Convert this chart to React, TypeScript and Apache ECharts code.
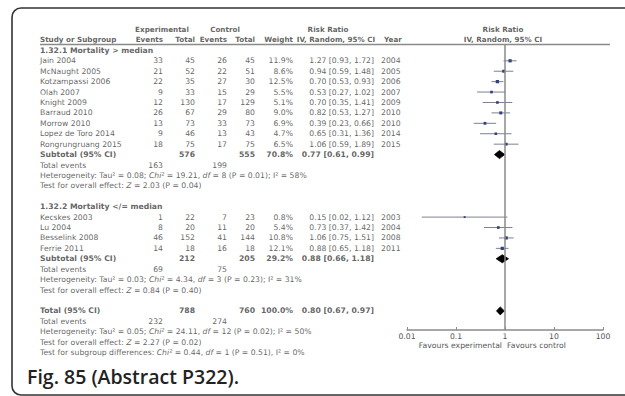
import React, { useEffect, useRef } from "react";
import * as echarts from "echarts";

// ---------- data ----------
const names1 = ["Jain 2004", "McNaught 2005", "Kotzampassi 2006", "Olah 2007", "Knight 2009", "Barraud 2010", "Morrow 2010", "Lopez de Toro 2014", "Rongrungruang 2015"];
const expEvents1 = [33, 21, 22, 9, 12, 26, 13, 9, 18];
const expTotal1 = [45, 52, 35, 33, 130, 67, 73, 46, 75];
const ctlEvents1 = [26, 22, 27, 15, 17, 29, 33, 13, 17];
const ctlTotal1 = [45, 51, 30, 29, 129, 80, 73, 43, 75];
const weight1 = [11.9, 8.6, 12.5, 5.5, 5.1, 9.0, 6.9, 4.7, 6.5];
const rr1 = [1.27, 0.94, 0.70, 0.53, 0.70, 0.82, 0.39, 0.65, 1.06];
const lo1 = [0.93, 0.59, 0.53, 0.27, 0.35, 0.53, 0.23, 0.31, 0.59];
const hi1 = [1.72, 1.48, 0.93, 1.02, 1.41, 1.27, 0.66, 1.36, 1.89];
const year1 = [2004, 2005, 2006, 2007, 2009, 2010, 2010, 2014, 2015];

const names2 = ["Kecskes 2003", "Lu 2004", "Besselink 2008", "Ferrie 2011"];
const expEvents2 = [1, 8, 46, 14];
const expTotal2 = [22, 20, 152, 18];
const ctlEvents2 = [7, 11, 41, 16];
const ctlTotal2 = [23, 20, 144, 18];
const weight2 = [0.8, 5.4, 10.8, 12.1];
const rr2 = [0.15, 0.73, 1.06, 0.88];
const lo2 = [0.02, 0.37, 0.75, 0.65];
const hi2 = [1.12, 1.42, 1.51, 1.18];
const year2 = [2003, 2004, 2008, 2011];

// subtotal / total: [expTotal, ctlTotal, weight, rr, lo, hi, expEvents, ctlEvents]
const sub1 = [576, 555, 70.8, 0.77, 0.61, 0.99, 163, 199];
const sub2 = [212, 205, 29.2, 0.88, 0.66, 1.18, 69, 75];
const total = [788, 760, 100.0, 0.80, 0.67, 0.97, 232, 274];

const het1 = "Heterogeneity: Tau² = 0.08; {i|Chi²} = 19.21, {i|df} = 8 (P = 0.01); I² = 58%";
const test1 = "Test for overall effect: {i|Z} = 2.03 (P = 0.04)";
const het2 = "Heterogeneity: Tau² = 0.03; {i|Chi²} = 4.34, {i|df} = 3 (P = 0.23); I² = 31%";
const test2 = "Test for overall effect: {i|Z} = 0.84 (P = 0.40)";
const hetT = "Heterogeneity: Tau² = 0.05; {i|Chi²} = 24.11, {i|df} = 12 (P = 0.02); I² = 50%";
const testT = "Test for overall effect: {i|Z} = 2.27 (P = 0.02)";
const testSub = "Test for subgroup differences: {i|Chi²} = 0.44, {i|df} = 1 (P = 0.51), I² = 0%";

const tickLabels = ["0.01", "0.1", "1", "10", "100"];

// ---------- layout ----------
const ROW0 = 60.8;
const RH = 10.42;
const COL = { name: 40, expEv: 163, expTot: 195, ctlEv: 227, ctlTot: 255, weight: 293, rr: 374, year: 381 };
const PLOT_L = 407, PLOT_R = 603, PLOT_T = 44, PLOT_B = 330;
const TXT = "#3a3a3a";
const FONT = "DejaVu Sans";
const FS = 7.7;
const FSB = 7.7;
const FSH = 7.2;

type Cell = { value: [number, number]; name: string; label: any };

export default function App() {
  const ref = useRef<HTMLDivElement>(null);
  useEffect(() => {
    const chart = echarts.init(ref.current!, null, { renderer: "svg" });

    const cells: Cell[] = [];
    const cell = (x: number, r: number, text: string, align = "left", bold = false, size?: number) => {
      cells.push({ value: [x, r], name: text, label: { align, fontWeight: bold ? "bold" : "normal", fontSize: size ?? (bold ? FSB : FS) } });
    };
    const head = (x: number, r: number, text: string, align = "left") => cell(x, r, text, align, true, FSH);
    const f2 = (v: number) => v.toFixed(2);
    const rrTxt = (a: number, b: number, c: number) => `${f2(a)} [${f2(b)}, ${f2(c)}]`;

    // headers
    head(162, -3, "Experimental", "center");
    head(225, -3, "Control", "center");
    head(328, -3, "Risk Ratio", "center");
    head(503, -3, "Risk Ratio", "center");
    head(COL.name, -2, "Study or Subgroup", "left");
    head(COL.expEv, -2, "Events", "right");
    head(COL.expTot, -2, "Total", "right");
    head(COL.ctlEv, -2, "Events", "right");
    head(COL.ctlTot, -2, "Total", "right");
    head(COL.weight, -2, "Weight", "right");
    head(336, -2, "IV, Random, 95% CI", "center");
    head(384, -2, "Year", "left");
    head(503, -2, "IV, Random, 95% CI", "center");

    const studyRows: number[][] = [];
    const diamonds: number[][] = [];

    const group = (start: number, heading: string, names: string[], ee: number[], et: number[], ce: number[], ct: number[], w: number[], rr: number[], lo: number[], hi: number[], yr: number[], sub: number[], het: string, test: string) => {
      cell(COL.name, start, heading, "left", true);
      names.forEach((n, i) => {
        const r = start + 1 + i;
        cell(COL.name, r, n);
        cell(COL.expEv, r, String(ee[i]), "right");
        cell(COL.expTot, r, String(et[i]), "right");
        cell(COL.ctlEv, r, String(ce[i]), "right");
        cell(COL.ctlTot, r, String(ct[i]), "right");
        cell(COL.weight, r, w[i].toFixed(1) + "%", "right");
        cell(COL.rr, r, rrTxt(rr[i], lo[i], hi[i]), "right");
        cell(COL.year, r, String(yr[i]));
        studyRows.push([rr[i], lo[i], hi[i], r, w[i]]);
      });
      const rs = start + 1 + names.length;
      cell(COL.name, rs, "Subtotal (95% CI)", "left", true);
      cell(COL.expTot, rs, String(sub[0]), "right", true);
      cell(COL.ctlTot, rs, String(sub[1]), "right", true);
      cell(COL.weight, rs, sub[2].toFixed(1) + "%", "right", true);
      cell(COL.rr, rs, rrTxt(sub[3], sub[4], sub[5]), "right", true);
      diamonds.push([sub[3], sub[4], sub[5], rs]);
      cell(COL.name, rs + 1, "Total events");
      cell(COL.expEv, rs + 1, String(sub[6]), "right");
      cell(COL.ctlEv, rs + 1, String(sub[7]), "right");
      cell(COL.name, rs + 2, het);
      cell(COL.name, rs + 3, test);
      return rs + 5;
    };

    let next = group(-1, "1.32.1 Mortality > median", names1, expEvents1, expTotal1, ctlEvents1, ctlTotal1, weight1, rr1, lo1, hi1, year1, sub1, het1, test1);
    next = group(next, "1.32.2 Mortality </= median", names2, expEvents2, expTotal2, ctlEvents2, ctlTotal2, weight2, rr2, lo2, hi2, year2, sub2, het2, test2);
    const rt = next;
    cell(COL.name, rt, "Total (95% CI)", "left", true);
    cell(COL.expTot, rt, String(total[0]), "right", true);
    cell(COL.ctlTot, rt, String(total[1]), "right", true);
    cell(COL.weight, rt, total[2].toFixed(1) + "%", "right", true);
    cell(COL.rr, rt, rrTxt(total[3], total[4], total[5]), "right", true);
    diamonds.push([total[3], total[4], total[5], rt]);
    cell(COL.name, rt + 1, "Total events");
    cell(COL.expEv, rt + 1, String(total[6]), "right");
    cell(COL.ctlEv, rt + 1, String(total[7]), "right");
    cell(COL.name, rt + 2, hetT);
    cell(COL.name, rt + 3, testT);
    cell(COL.name, rt + 4, testSub);

    const tMin = -4, tMax = 30;
    const plotMin = (PLOT_T - ROW0) / RH;
    const plotMax = (PLOT_B - ROW0) / RH;

    const option: any = {
      animation: false,
      backgroundColor: "#fff",
      textStyle: { fontFamily: FONT },
      grid: [
        { left: 0, width: 625, top: ROW0 + tMin * RH, height: (tMax - tMin) * RH },
        { left: PLOT_L, width: PLOT_R - PLOT_L, top: PLOT_T, height: PLOT_B - PLOT_T },
      ],
      xAxis: [
        { gridIndex: 0, type: "value", min: 0, max: 625, show: false },
        {
          gridIndex: 1, type: "log", logBase: 10, min: 0.01, max: 100, position: "bottom",
          axisLine: { show: true, onZero: false, lineStyle: { color: "#8a8a8a", width: 1.5 } },
          axisTick: { show: true, inside: true, length: 3, lineStyle: { color: "#8a8a8a", width: 1 } },
          axisLabel: {
            show: true, margin: 2, fontSize: FS, color: "#555", fontFamily: FONT,
            formatter: (v: number) => tickLabels[Math.round(Math.log10(v)) + 2] ?? "",
          },
          splitLine: { show: false },
          minorTick: { show: false },
        },
      ],
      yAxis: [
        { gridIndex: 0, type: "value", min: tMin, max: tMax, inverse: true, show: false },
        { gridIndex: 1, type: "value", min: plotMin, max: plotMax, inverse: true, show: false },
      ],
      series: [
        {
          type: "scatter", xAxisIndex: 0, yAxisIndex: 0, symbolSize: 0, silent: true, clip: false,
          data: cells,
          label: {
            show: true, position: "inside", verticalAlign: "middle", color: TXT,
            fontSize: FS, fontFamily: FONT,
            formatter: (p: any) => p.name,
            rich: { i: { fontStyle: "italic", fontSize: FS, fontFamily: FONT, color: TXT } },
          },
        },
        {
          type: "custom", xAxisIndex: 1, yAxisIndex: 1, silent: true,
          data: studyRows,
          encode: { x: [0, 1, 2], y: 3 },
          renderItem: (params: any, api: any) => {
            const r = api.value(3);
            const p = api.coord([api.value(0), r]);
            const a = api.coord([api.value(1), r]);
            const b = api.coord([api.value(2), r]);
            const s = 1.5 + Math.sqrt(api.value(4)) * 0.5;
            return {
              type: "group",
              children: [
                { type: "line", shape: { x1: a[0], y1: a[1], x2: b[0], y2: b[1] }, style: { stroke: "#7d8090", lineWidth: 1 } },
                { type: "rect", shape: { x: p[0] - s / 2, y: p[1] - s / 2, width: s, height: s }, style: { fill: "#34427a" } },
              ],
            };
          },
          markLine: {
            silent: true, symbol: "none", label: { show: false },
            lineStyle: { color: "#8a8a8a", width: 1.5, type: "solid" },
            data: [{ xAxis: 1 }],
          },
        },
        {
          type: "custom", xAxisIndex: 1, yAxisIndex: 1, silent: true,
          data: diamonds,
          encode: { x: [0, 1, 2], y: 3 },
          renderItem: (params: any, api: any) => {
            const r = api.value(3);
            const c = api.coord([api.value(0), r]);
            const a = api.coord([api.value(1), r]);
            const b = api.coord([api.value(2), r]);
            const h = 4;
            return {
              type: "polygon",
              shape: { points: [[a[0], a[1]], [c[0], c[1] - h], [b[0], b[1]], [c[0], c[1] + h]] },
              style: { fill: "#000", stroke: "#000", lineWidth: 0.8 },
            };
          },
        },
      ],
      graphic: [
        { type: "rect", silent: true, shape: { x: 12, y: 8, width: 700, height: 387, r: 9 }, style: { fill: "none", stroke: "#333", lineWidth: 1.6 } },
        { type: "line", silent: true, shape: { x1: 40, y1: 44.5, x2: 610, y2: 44.5 }, style: { stroke: "#8a8a8a", lineWidth: 1.5 } },
        { type: "text", silent: true, x: 502, y: 345, style: { text: "Favours experimental", fill: "#555", font: `${FS}px "${FONT}"`, align: "right", verticalAlign: "middle" } },
        { type: "text", silent: true, x: 507, y: 345, style: { text: "Favours control", fill: "#555", font: `${FS}px "${FONT}"`, align: "left", verticalAlign: "middle" } },
        { type: "text", silent: true, x: 27, y: 376, style: { text: "Fig. 85 (Abstract P322).", fill: "#222", font: `600 19.5px "Open Sans"`, align: "left", verticalAlign: "middle" } },
      ],
    };
    chart.setOption(option);
    return () => chart.dispose();
  }, []);
  return <div ref={ref} style={{ position: "fixed", left: 0, top: 0, width: 625, height: 396, background: "#fff" }} />;
}
